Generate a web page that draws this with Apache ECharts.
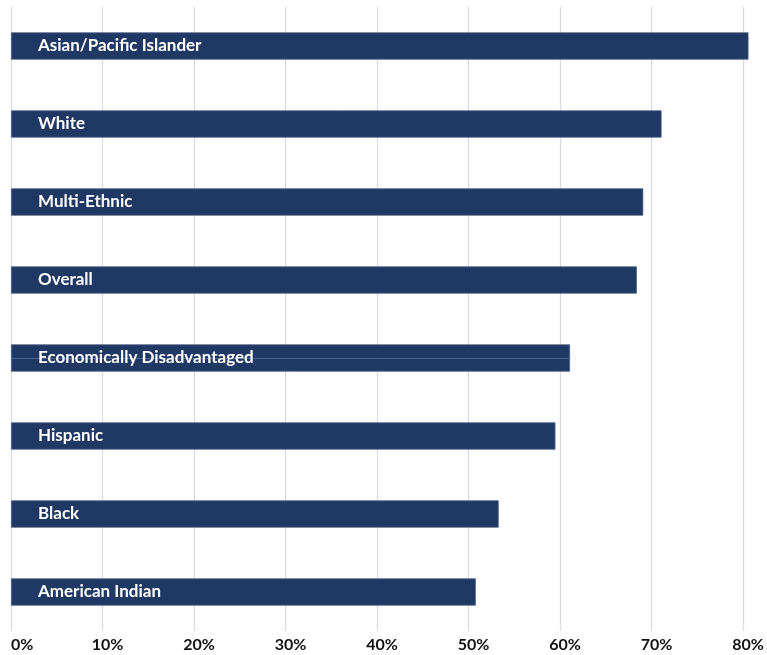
<!DOCTYPE html>
<html>
<head>
<meta charset="utf-8">
<script src="https://cdn.jsdelivr.net/npm/echarts@6/dist/echarts.min.js"></script>
<style>
html,body{margin:0;padding:0;background:#fff;}
#chart{width:767px;height:655px;}
</style>
</head>
<body>
<div id="chart"></div>
<script>
const categories = [
  'Asian/Pacific Islander',
  'White',
  'Multi-Ethnic',
  'Overall',
  'Economically Disadvantaged',
  'Hispanic',
  'Black',
  'American Indian'
];
const values = [80.6, 71.1, 69.1, 68.4, 61.1, 59.5, 53.3, 50.8];
const xTicks = [0, 10, 20, 30, 40, 50, 60, 70, 80];

const econIndex = 4;

const tickFont = { fontFamily: 'Lato', fontWeight: 'bold', fontSize: 16, color: '#111111' };

const chart = echarts.init(document.getElementById('chart'));
chart.setOption({
  animation: false,
  backgroundColor: '#ffffff',
  grid: { left: 11, right: 24, top: 7, bottom: 24, containLabel: false },
  xAxis: {
    type: 'value',
    min: xTicks[0],
    max: xTicks[xTicks.length - 1],
    interval: 10,
    axisLine: { show: false },
    axisTick: { show: false },
    splitLine: { show: true, lineStyle: { color: '#dcdcdc', width: 1.3 } },
    axisLabel: {
      formatter: function (v) {
        return v === 0 ? '{z|' + v + '%}' : '{n|' + v + '%}';
      },
      margin: 6,
      alignMinLabel: 'left',
      fontFamily: 'Lato', fontWeight: 'bold', fontSize: 16, color: '#111111',
      rich: {
        z: Object.assign({}, tickFont),
        n: Object.assign({ padding: [0, 0, 0, 10] }, tickFont)
      }
    }
  },
  yAxis: {
    type: 'category',
    data: categories,
    inverse: true,
    axisLine: { show: false },
    axisTick: { show: false },
    axisLabel: { show: false },
    splitLine: { show: false }
  },
  series: [{
    type: 'bar',
    z: 2,
    data: values,
    clip: false,
    barCategoryGap: '65%',
    itemStyle: { color: '#203864', borderColor: '#4b5f87', borderWidth: 0.8 },
    markLine: {
      silent: true,
      z: 3,
      symbol: 'none',
      label: { show: false },
      lineStyle: { color: '#4d6290', width: 1, type: 'solid' },
      data: [[
        { coord: [0, categories[econIndex]] },
        { coord: [values[econIndex], categories[econIndex]] }
      ]]
    }
  }, {
    type: 'bar',
    z: 4,
    data: values,
    clip: false,
    barGap: '-100%',
    barCategoryGap: '65%',
    itemStyle: { color: 'rgba(0,0,0,0)' },
    label: {
      show: true,
      position: 'insideLeft',
      distance: 27,
      formatter: function (p) { return p.name; },
      color: '#ffffff',
      fontFamily: 'Lato',
      fontWeight: 'bold',
      fontSize: 17
    }
  }]
});
</script>
</body>
</html>
